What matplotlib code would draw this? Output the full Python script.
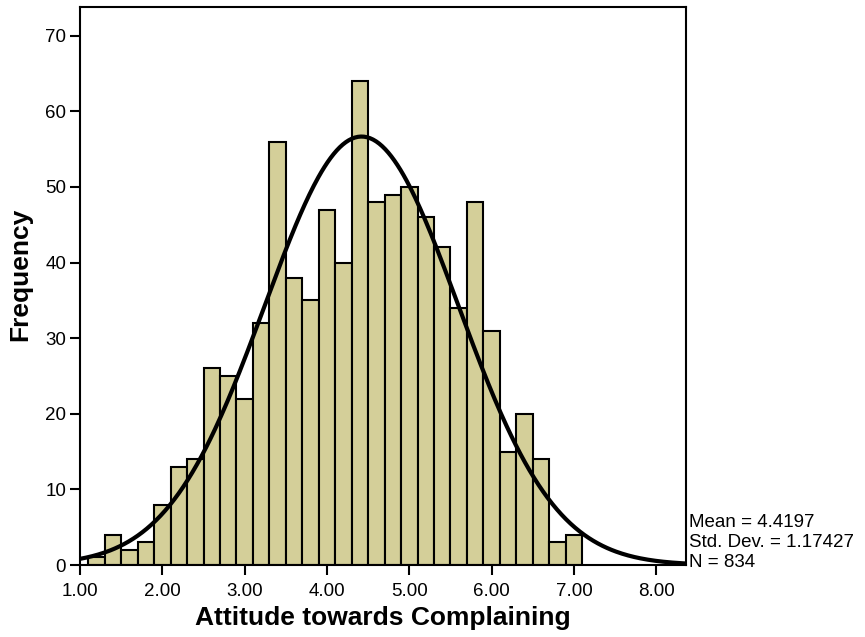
import numpy as np
import matplotlib.pyplot as plt

plt.rcParams['font.family'] = ['Liberation Sans', 'DejaVu Sans']

# histogram bins (width 0.2) and counts
bin_edges = np.round(np.arange(1.1, 7.1001, 0.2), 2)
counts = [1, 4, 2, 3, 8, 13, 14, 26, 25, 22,
          32, 56, 38, 35, 47, 40, 64, 48, 49, 50,
          46, 42, 34, 48, 31, 15, 20, 14, 3, 4]

mean = 4.4197
std = 1.17427
n = 834
bin_width = 0.2

fig = plt.figure(figsize=(8.65, 6.37), dpi=100)
ax = fig.add_axes([0.0925, 0.113, 0.7005, 0.876])

ax.bar(bin_edges[:-1], counts, width=bin_width, align='edge',
       color='#d4cf99', edgecolor='black', linewidth=1.5, zorder=2)

# fitted normal curve scaled to counts
x = np.linspace(1.0, 8.36, 400)
y = n * bin_width / (std * np.sqrt(2 * np.pi)) * np.exp(-0.5 * ((x - mean) / std) ** 2)
ax.plot(x, y, color='black', linewidth=3, zorder=3)

ax.set_xlim(1.0, 8.36)
ax.set_ylim(0, 73.8)
ax.set_xticks(range(1, 9))
ax.set_xticklabels([f'{v:.2f}' for v in range(1, 9)])
ax.set_yticks(range(0, 71, 10))
ax.tick_params(axis='both', direction='out', length=7, width=1.5, labelsize=13.5)
ax.tick_params(axis='x', pad=6)
ax.tick_params(axis='y', pad=3)
for s in ax.spines.values():
    s.set_linewidth(1.5)

ax.set_xlabel('Attitude towards Complaining', fontsize=19, fontweight='bold', labelpad=4)
ax.set_ylabel('Frequency', fontsize=19, fontweight='bold', labelpad=5)
ax.yaxis.set_label_coords(-0.078, 0.52)

fig.text(0.796, 0.180, f'Mean = {mean}', fontsize=13.5, va='center')
fig.text(0.796, 0.148, f'Std. Dev. = {std}', fontsize=13.5, va='center')
fig.text(0.796, 0.117, f'N = {n}', fontsize=13.5, va='center')

fig.savefig('out.png', dpi=100)
